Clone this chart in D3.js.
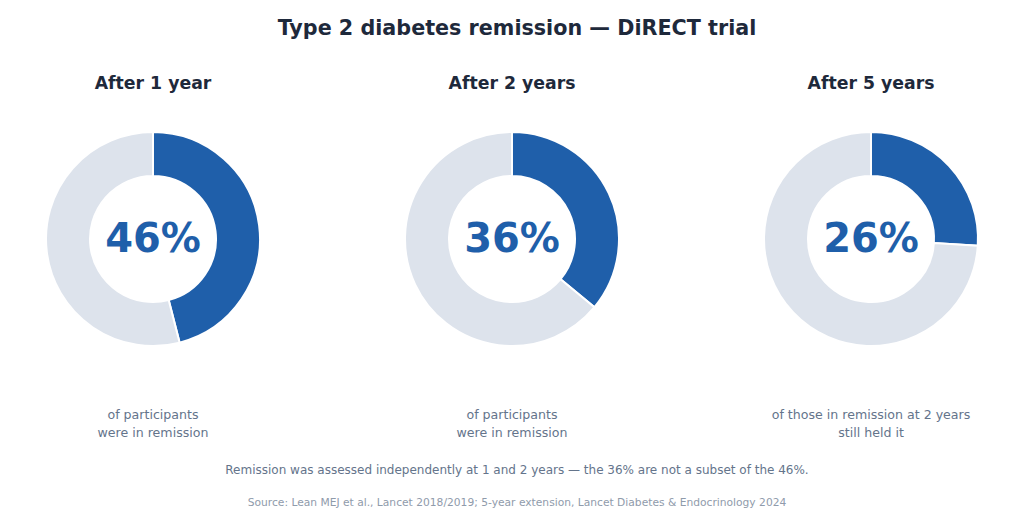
<!DOCTYPE html>
<html>
<head>
<meta charset="utf-8">
<script src="https://cdn.jsdelivr.net/npm/d3@7"></script>
<style>
  body { margin: 0; background: #fff; }
  svg { display: block; font-family: "DejaVu Sans", sans-serif; }
</style>
</head>
<body>
<svg id="chart"></svg>
<script>
// chart data
const panels = ['After 1 year', 'After 2 years', 'After 5 years'];
const values = [46, 36, 26];
const captions = [
  ['of participants', 'were in remission'],
  ['of participants', 'were in remission'],
  ['of those in remission at 2 years', 'still held it']
];
const title = 'Type 2 diabetes remission \u2014 DiRECT trial';
const note = 'Remission was assessed independently at 1 and 2 years \u2014 the 36% are not a subset of the 46%.';
const source = 'Source: Lean MEJ et al., Lancet 2018/2019; 5-year extension, Lancet Diabetes & Endocrinology 2024';

const width = 1024, height = 527;
const svg = d3.select('#chart').attr('width', width).attr('height', height);

const blue = '#1f5faa', rest = '#dde3ec';
const midX = 517;

// centre of each donut
const xscale = d3.scalePoint().domain(panels).range([153, 871]);
const cy = 239;
const outerR = 107, innerR = 63;

const pie = d3.pie().sort(null).value(d => d);
const arc = d3.arc().innerRadius(innerR).outerRadius(outerR);

svg.append('text')
  .attr('x', midX).attr('y', 35)
  .attr('text-anchor', 'middle')
  .style('font-size', '20.7px').style('font-weight', 'bold')
  .attr('fill', '#1e293b')
  .text(title);

panels.forEach((p, i) => {
  const cx = xscale(p);
  const g = svg.append('g').attr('transform', `translate(${cx}, ${cy})`);

  g.selectAll('path')
    .data(pie([values[i], 100 - values[i]]))
    .join('path')
    .attr('d', arc)
    .attr('fill', (d, j) => j === 0 ? blue : rest)
    .attr('stroke', '#fff')
    .attr('stroke-width', 2);

  g.append('text')
    .attr('text-anchor', 'middle')
    .attr('dy', '0.33em')
    .style('font-size', '40px').style('font-weight', 'bold')
    .attr('fill', blue)
    .text(values[i] + '%');

  svg.append('text')
    .attr('x', cx).attr('y', 89)
    .attr('text-anchor', 'middle')
    .style('font-size', '17.3px').style('font-weight', 'bold')
    .attr('fill', '#1e293b')
    .text(p);

  captions[i].forEach((line, k) => {
    svg.append('text')
      .attr('x', cx).attr('y', 419 + k * 17.5)
      .attr('text-anchor', 'middle')
      .style('font-size', '12.6px')
      .attr('fill', '#64748b')
      .text(line);
  });
});

svg.append('text')
  .attr('x', midX).attr('y', 473.5)
  .attr('text-anchor', 'middle')
  .style('font-size', '12px')
  .attr('fill', '#64748b')
  .text(note);

svg.append('text')
  .attr('x', midX).attr('y', 505.5)
  .attr('text-anchor', 'middle')
  .style('font-size', '10.7px')
  .attr('fill', '#8f9bab')
  .text(source);
</script>
</body>
</html>
